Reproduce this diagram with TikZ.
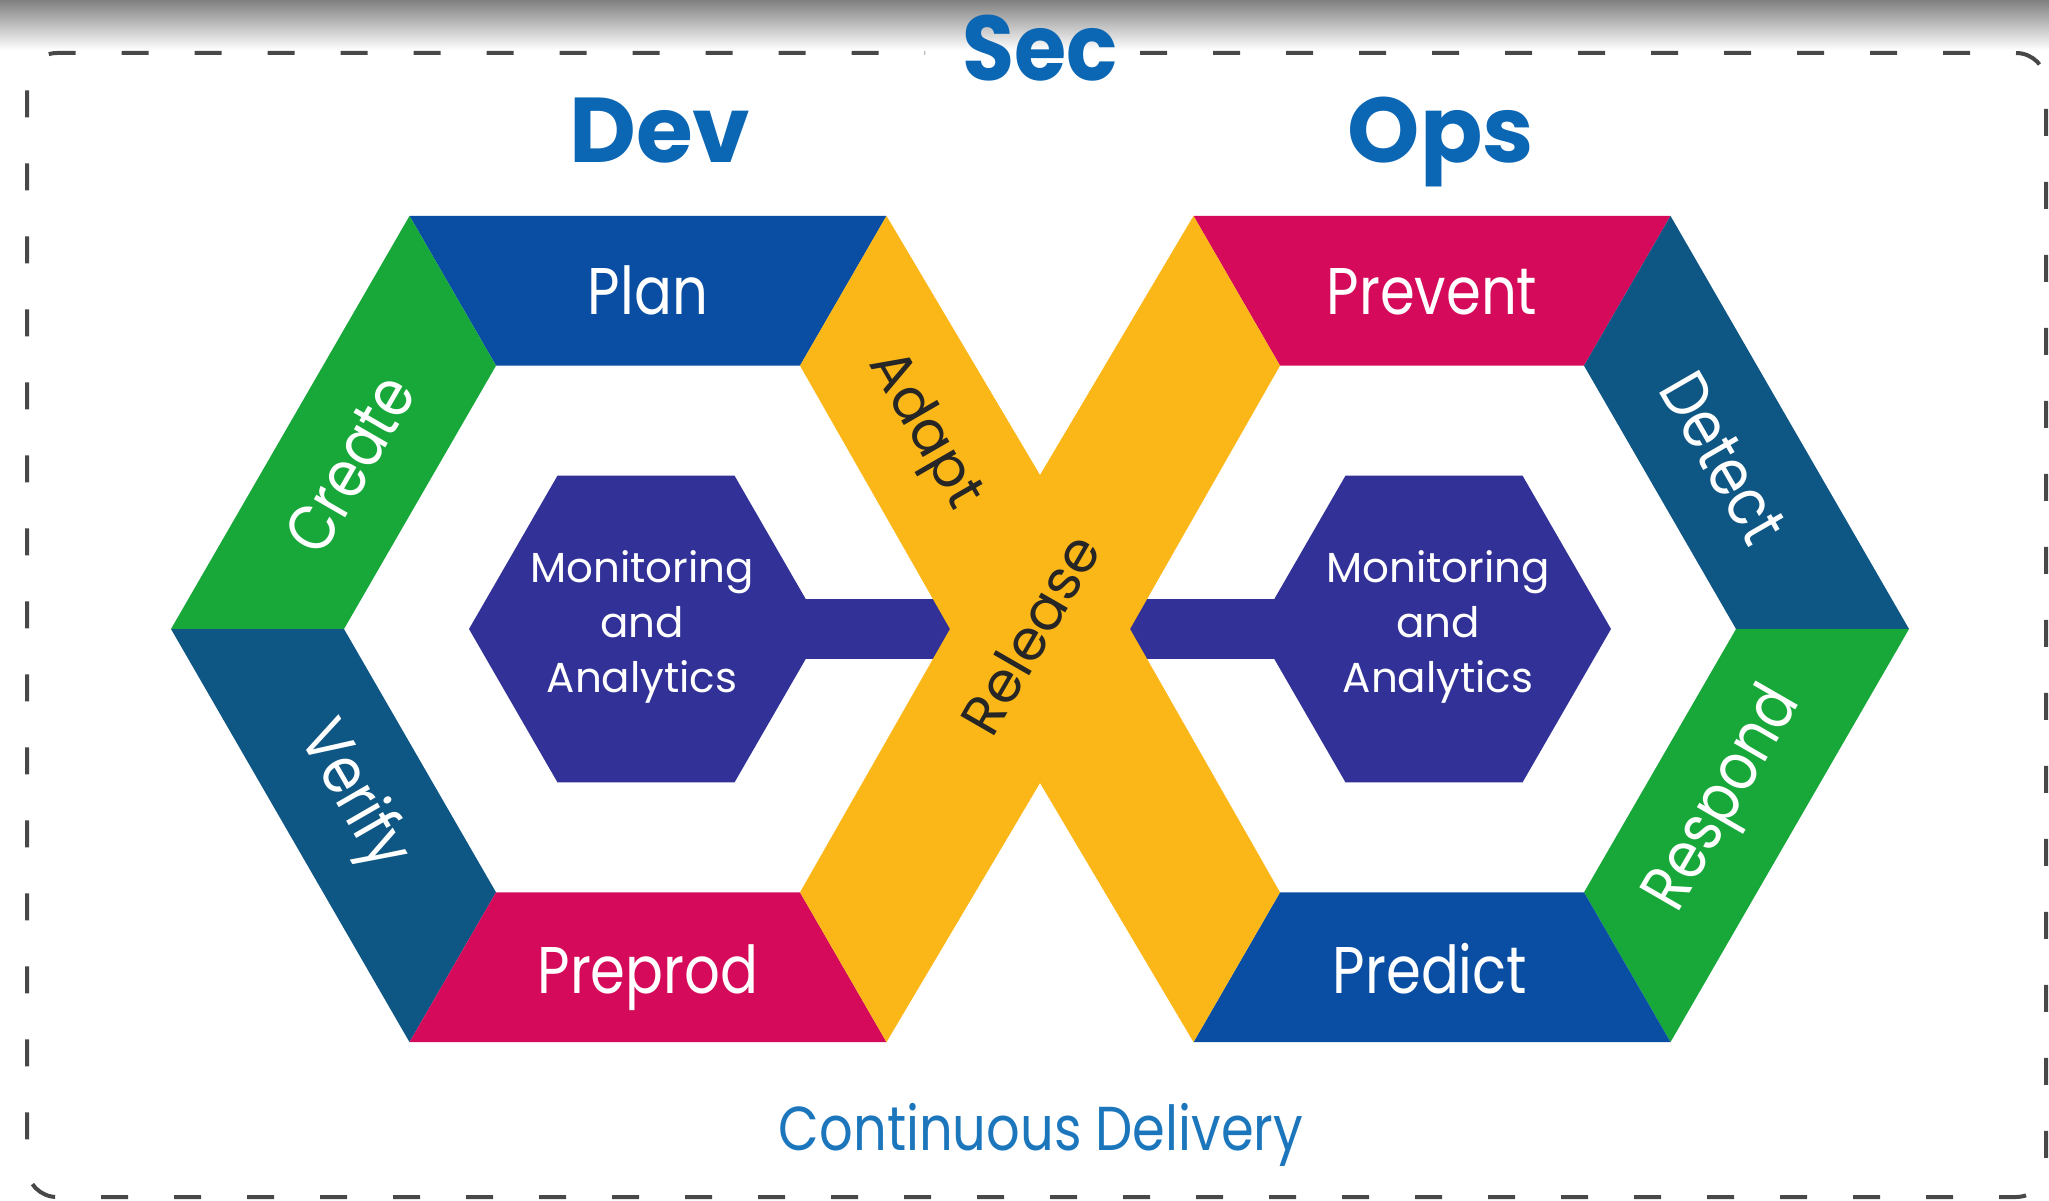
\documentclass[tikz,border=0pt]{standalone}
\usepackage{fontspec}
\newfontfamily\popfont{Poppins}
\newfontfamily\popcond[FakeStretch=0.85]{Poppins}
\newfontfamily\popsec[FakeStretch=0.92]{Poppins}
\definecolor{dvblue}{RGB}{10,78,163}
\definecolor{dvgreen}{RGB}{24,168,58}
\definecolor{dvteal}{RGB}{14,86,132}
\definecolor{dvred}{RGB}{214,10,90}
\definecolor{dvyellow}{RGB}{251,183,24}
\definecolor{dvindigo}{RGB}{49,49,152}
\definecolor{dvtitle}{RGB}{11,102,180}
\definecolor{dvcd}{RGB}{28,118,188}
\definecolor{dvborder}{RGB}{72,72,72}
\begin{document}
\begin{tikzpicture}[x=1pt,y=-1pt,
  bandlbl/.style={text=white,inner sep=0pt,font=\popcond\fontsize{66}{66}\selectfont},
  monlbl/.style={text=white,inner sep=0pt,align=center,font=\popfont\fontsize{42}{55}\selectfont},
  xlbl/.style={text=black!85,inner sep=0pt,font=\popfont\fontsize{56}{56}\selectfont},
  titlelbl/.style={text=dvtitle,inner sep=0pt,font=\popfont\bfseries\fontsize{92}{92}\selectfont},
  seclbl/.style={text=dvtitle,inner sep=0pt,font=\popsec\bfseries\fontsize{92}{92}\selectfont},
  cdlbl/.style={text=dvcd,inner sep=0pt,font=\popcond\fontsize{62}{62}\selectfont},
  borderline/.style={draw=dvborder,line width=4pt,dash pattern=on 27pt off 46pt,rounded corners=30pt}]
\useasboundingbox (0,0) rectangle (2049,1201);
\shade[top color=black!50,bottom color=white] (0,0) rectangle (2049,50);
% border
\coordinate (b1) at (1140,53);
\coordinate (b2) at (2046,53);
\coordinate (b3) at (2046,1197);
\coordinate (b4) at (27,1197);
\coordinate (b5) at (27,53);
\coordinate (b6) at (925,53);
\draw[borderline] (b1) -- (b2) -- (b3) -- (b4) -- (b5) -- (b6);
% left hexagon frame (center 648,629)
\coordinate (LoL) at (171,629);
\coordinate (LoTL) at (409.5,215.9);
\coordinate (LoTR) at (886.5,215.9);
\coordinate (LoBL) at (409.5,1042.1);
\coordinate (LoBR) at (886.5,1042.1);
\coordinate (LiL) at (344,629);
\coordinate (LiTL) at (496,365.7);
\coordinate (LiTR) at (800,365.7);
\coordinate (LiBL) at (496,892.3);
\coordinate (LiBR) at (800,892.3);
% right hexagon frame (center 1432,629)
\coordinate (RoR) at (1909,629);
\coordinate (RoTR) at (1670.5,215.9);
\coordinate (RoTL) at (1193.5,215.9);
\coordinate (RoBR) at (1670.5,1042.1);
\coordinate (RoBL) at (1193.5,1042.1);
\coordinate (RiR) at (1736,629);
\coordinate (RiTR) at (1584,365.7);
\coordinate (RiTL) at (1280,365.7);
\coordinate (RiBR) at (1584,892.3);
\coordinate (RiBL) at (1280,892.3);
% X notches
\coordinate (Xt) at (1040,475);
\coordinate (Xb) at (1040,783);
\coordinate (Xl) at (950,629);
\coordinate (Xr) at (1130,629);
% bands
\fill[dvblue] (LoTL) -- (LoTR) -- (LiTR) -- (LiTL) -- cycle;
\fill[dvgreen] (LoL) -- (LoTL) -- (LiTL) -- (LiL) -- cycle;
\fill[dvteal] (LoL) -- (LoBL) -- (LiBL) -- (LiL) -- cycle;
\fill[dvred] (LoBL) -- (LoBR) -- (LiBR) -- (LiBL) -- cycle;
\fill[dvred] (RoTL) -- (RoTR) -- (RiTR) -- (RiTL) -- cycle;
\fill[dvteal] (RoTR) -- (RoR) -- (RiR) -- (RiTR) -- cycle;
\fill[dvgreen] (RoR) -- (RoBR) -- (RiBR) -- (RiR) -- cycle;
\fill[dvblue] (RoBL) -- (RoBR) -- (RiBR) -- (RiBL) -- cycle;
% monitoring hexagons and bars
\fill[dvindigo] (646,599) rectangle (960,659);
\fill[dvindigo] (1120,599) rectangle (1434,659);
\fill[dvindigo] (469,629) -- (557.5,475.6) -- (734.5,475.6) -- (823,629) -- (734.5,782.4) -- (557.5,782.4) -- cycle;
\fill[dvindigo] (1257,629) -- (1345.5,475.6) -- (1522.5,475.6) -- (1611,629) -- (1522.5,782.4) -- (1345.5,782.4) -- cycle;
% yellow X
\fill[dvyellow] (LoTR) -- (Xt) -- (RoTL) -- (RiTL) -- (Xr) -- (RiBL) -- (RoBL) -- (Xb) -- (LoBR) -- (LiBR) -- (Xl) -- (LiTR) -- cycle;
% labels
\node[bandlbl,anchor=base] (plan) at (648,314) {Plan};
\node[bandlbl,anchor=base] (preprod) at (648,993) {Preprod};
\node[bandlbl,anchor=base] (prevent) at (1432,314) {Prevent};
\node[bandlbl,anchor=base] (predict) at (1430,993) {Predict};
\node[bandlbl,rotate=60] (create) at (350,464) {Create};
\node[bandlbl,rotate=-60] (verify) at (352,796) {Verify};
\node[bandlbl,rotate=-60] (detect) at (1723,458) {Detect};
\node[bandlbl,rotate=60] (respond) at (1725,800) {Respond};
\node[xlbl,rotate=-60] (adapt) at (923,431) {Adapt};
\node[xlbl,rotate=60] (release) at (1030,634) {Release};
\node[monlbl] (monL) at (642,627) {Monitoring\\and\\Analytics};
\node[monlbl] (monR) at (1438,627) {Monitoring\\and\\Analytics};
\node[seclbl,anchor=base] (sec) at (1040,81) {Sec};
\node[titlelbl,anchor=base] (dev) at (660,163) {Dev};
\node[titlelbl,anchor=base] (ops) at (1441,163) {Ops};
\node[cdlbl,anchor=base] (cd) at (1041,1150) {Continuous Delivery};
\end{tikzpicture}
\end{document}
